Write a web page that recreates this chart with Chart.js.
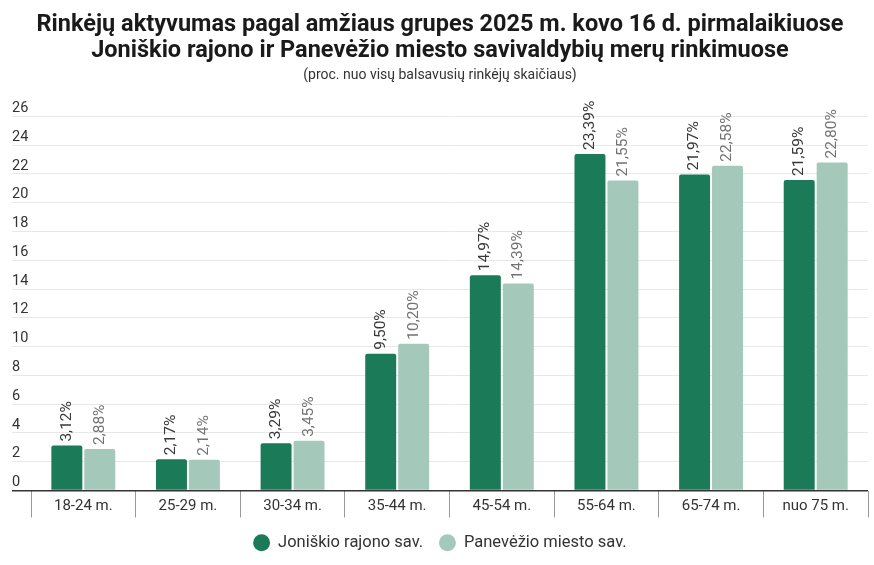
<!DOCTYPE html>
<html lang="lt">
<head>
<meta charset="UTF-8">
<title>Rinkėjų aktyvumas</title>
<script src="https://cdn.jsdelivr.net/npm/chart.js"></script>
<style>
  html, body { margin: 0; padding: 0; background: #fff; }
  #wrap { width: 874px; height: 565px; }
</style>
</head>
<body>
<div id="wrap"><canvas id="myChart"></canvas></div>
<script>
// duomenys
const grupes = ['18-24 m.', '25-29 m.', '30-34 m.', '35-44 m.', '45-54 m.', '55-64 m.', '65-74 m.', 'nuo 75 m.'];
const joniskis = [3.12, 2.17, 3.29, 9.50, 14.97, 23.39, 21.97, 21.59];
const panevezys = [2.88, 2.14, 3.45, 10.20, 14.39, 21.55, 22.58, 22.80];
const yTicks = [0, 2, 4, 6, 8, 10, 12, 14, 16, 18, 20, 22, 24, 26];

const labelColors = ['#383838', '#737373'];

// reiksmes virs stulpeliu (pasuktos 90 laipsniu)
const barLabels = {
    id: 'barLabels',
    afterDatasetsDraw(chart) {
        const ctx = chart.ctx;
        chart.data.datasets.forEach((ds, i) => {
            const meta = chart.getDatasetMeta(i);
            meta.data.forEach((bar, j) => {
                const txt = ds.data[j].toFixed(2).replace('.', ',') + '%';
                ctx.save();
                ctx.translate(bar.x, bar.y - 4);
                ctx.rotate(-Math.PI / 2);
                ctx.font = '15.5px Roboto';
                ctx.fillStyle = labelColors[i];
                ctx.textAlign = 'left';
                ctx.textBaseline = 'middle';
                ctx.fillText(txt, 0, 0);
                ctx.restore();
            });
        });
    }
};

new Chart(document.getElementById('myChart'), {
    type: 'bar',
    data: {
        labels: grupes,
        datasets: [
            {
                label: 'Joniškio rajono sav.',
                data: joniskis,
                backgroundColor: '#1b7a57',
                borderRadius: 2,
                categoryPercentage: 0.63,
                barPercentage: 0.94
            },
            {
                label: 'Panevėžio miesto sav.',
                data: panevezys,
                backgroundColor: '#a4c9bb',
                borderRadius: 2,
                categoryPercentage: 0.63,
                barPercentage: 0.94
            }
        ]
    },
    options: {
        responsive: true,
        maintainAspectRatio: false,
        animation: false,
        layout: { padding: { left: 12, right: 6, top: 0, bottom: 4 } },
        plugins: {
            title: {
                display: true,
                text: ['Rinkėjų aktyvumas pagal amžiaus grupes 2025 m. kovo 16 d. pirmalaikiuose',
                       'Joniškio rajono ir Panevėžio miesto savivaldybių merų rinkimuose'],
                font: { family: 'Roboto', size: 23.5, weight: 'bold', lineHeight: 1.12 },
                color: '#1a1a1a',
                padding: { top: 12, bottom: 2 }
            },
            subtitle: {
                display: true,
                text: '(proc. nuo visų balsavusių rinkėjų skaičiaus)',
                font: { family: 'Roboto', size: 14 },
                color: '#333333',
                padding: { top: 0, bottom: 33 }
            },
            legend: {
                position: 'bottom',
                labels: {
                    usePointStyle: true,
                    pointStyle: 'circle',
                    boxHeight: 12,
                    padding: 16,
                    color: '#333333',
                    font: { family: 'Roboto', size: 16.5 }
                }
            },
            tooltip: { enabled: false }
        },
        scales: {
            x: {
                afterFit: (s) => { s.height = 28; },
                grid: {
                    offset: true,
                    drawOnChartArea: false,
                    drawTicks: true,
                    tickLength: 27,
                    color: '#999999'
                },
                border: { display: false },
                ticks: {
                    color: '#333333',
                    font: { family: 'Roboto', size: 15 },
                    padding: -20
                }
            },
            y: {
                min: 0,
                max: 26,
                afterBuildTicks: (axis) => { axis.ticks = yTicks.map(v => ({ value: v })); },
                afterFit: (s) => { s.width = 19; },
                grid: {
                    tickLength: 19,
                    color: (c) => c.tick && c.tick.value === 0 ? '#333333' : '#e8e8e8',
                    lineWidth: (c) => c.tick && c.tick.value === 0 ? 1.5 : 1
                },
                border: { display: false },
                ticks: {
                    crossAlign: 'far',
                    padding: 0,
                    labelOffset: -8,
                    color: '#333333',
                    font: { family: 'Roboto', size: 14.5 }
                }
            }
        }
    },
    plugins: [barLabels]
});
</script>
</body>
</html>
